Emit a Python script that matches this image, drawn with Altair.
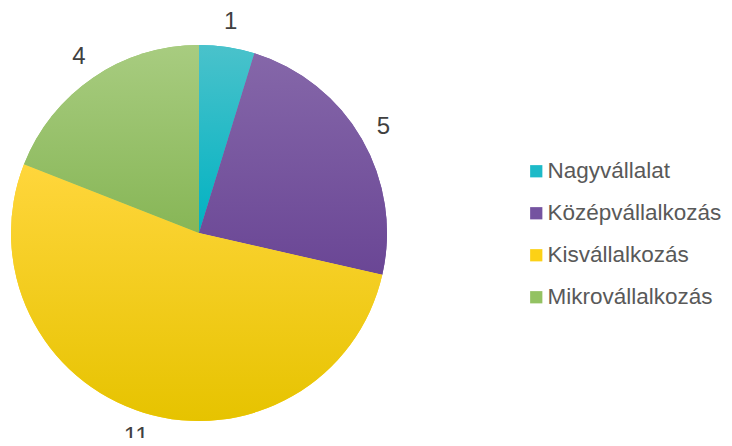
import altair as alt
import pandas as pd

categories = ["Nagyvállalat", "Középvállalkozás", "Kisvállalkozás", "Mikrovállalkozás"]
values = [1, 5, 11, 4]
order = [0, 1, 2, 3]
flat_colors = ["#1DBAC8", "#7453A0", "#FCD116", "#93C262"]
grad_top = ["#4AC2CB", "#8567A9", "#FFD63C", "#A8CC80"]
grad_bottom = ["#00B2C2", "#6A4695", "#E6C300", "#87B656"]

df = pd.DataFrame({"cat": categories, "val": values, "ord": order})
total = sum(values)

CX, CY, R = 191, 225, 188

base = alt.Chart(df).transform_window(
    cum="sum(val)", sort=[alt.SortField("ord")], frame=[None, 0]
).transform_calculate(
    start="datum.cum - datum.val",
    mid="datum.cum - datum.val / 2",
)

theta_scale = alt.Scale(domain=[0, total])

flat = base.mark_arc(outerRadius=R).encode(
    theta=alt.Theta("start:Q", scale=theta_scale),
    theta2="cum:Q",
    x=alt.value(CX),
    y=alt.value(CY),
    color=alt.Color(
        "cat:N",
        scale=alt.Scale(domain=categories, range=flat_colors),
        sort=categories,
        legend=alt.Legend(
            title=None,
            orient="none",
            legendX=517,
            legendY=152,
            symbolType="square",
            symbolSize=150,
            symbolStrokeWidth=0,
            labelFontSize=22.5,
            labelFont="Liberation Sans",
            labelColor="#595959",
            labelOffset=0,
            labelLimit=0,
            rowPadding=19,
            padding=0,
        ),
    ),
)

layers = [flat]
for i, c in enumerate(categories):
    g = alt.Gradient(
        gradient="linear", x1=0, y1=0, x2=0, y2=1,
        stops=[alt.GradientStop(color=grad_top[i], offset=0),
               alt.GradientStop(color=grad_bottom[i], offset=1)],
    )
    layers.append(
        base.transform_filter(alt.datum.cat == c).mark_arc(outerRadius=R, fill=g).encode(
            theta=alt.Theta("start:Q", scale=theta_scale),
            theta2="cum:Q",
            x=alt.value(CX),
            y=alt.value(CY),
        )
    )

labels = base.mark_text(radius=213, fontSize=24, font="Liberation Sans", color="#404040").encode(
    theta=alt.Theta("mid:Q", scale=theta_scale),
    x=alt.value(CX),
    y=alt.value(CY),
    text="val:Q",
)
layers.append(labels)

chart = alt.layer(*layers).properties(
    width=716, height=430, autosize=alt.AutoSizeParams(type="none"), padding=0
).configure_view(stroke=None)

chart.save("out.html", embed_options={"renderer": "svg", "actions": False})
